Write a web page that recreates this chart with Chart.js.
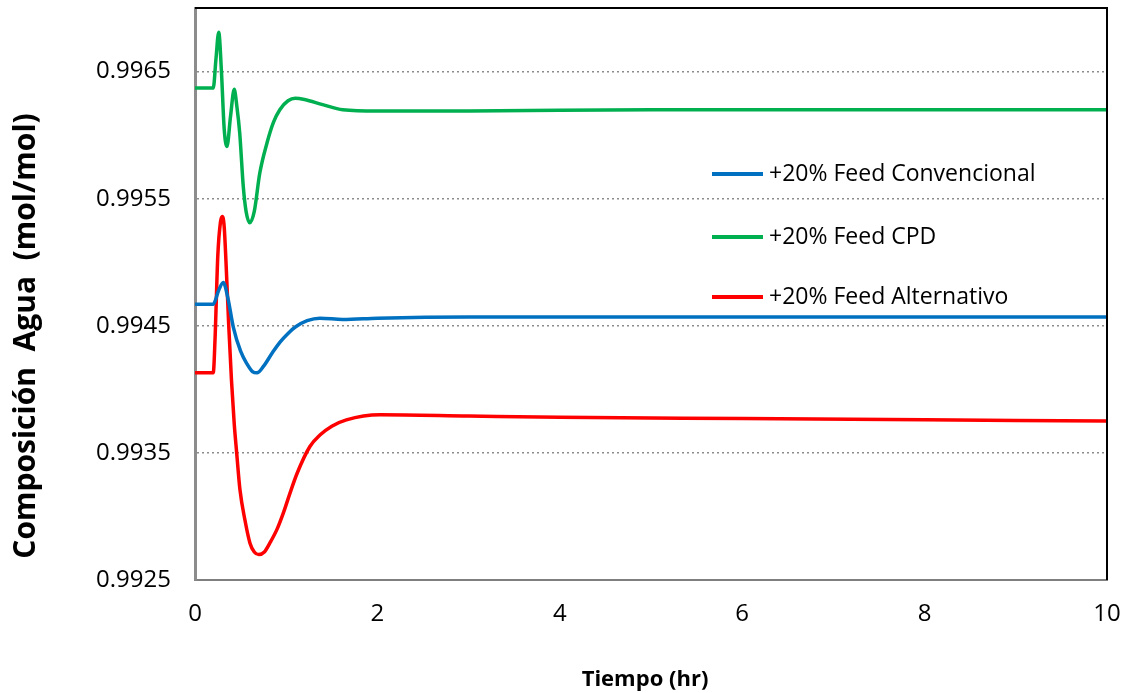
<!DOCTYPE html>
<html>
<head>
<meta charset="utf-8">
<script src="https://cdn.jsdelivr.net/npm/chart.js@4/dist/chart.umd.min.js"></script>
<style>
  html, body { margin: 0; padding: 0; background: #fff; }
  #wrap { width: 1134px; height: 693px; position: relative; }
</style>
</head>
<body>
<div id="wrap"><canvas id="chart"></canvas></div>
<script>
// Series labels
const seriesLabels = ['+20% Feed Convencional', '+20% Feed CPD', '+20% Feed Alternativo'];

// Convencional (blue)
const convTime = [0, 0.2, 0.26, 0.31, 0.36, 0.42, 0.5, 0.57, 0.63, 0.68, 0.75, 0.85, 0.93, 1.02, 1.1, 1.23, 1.37, 1.62, 2.0, 3.0, 5.0, 10];
const convValue = [0.99467, 0.99467, 0.99478, 0.99484, 0.99472, 0.99449, 0.99430, 0.99420, 0.99414, 0.99413, 0.99418, 0.99429, 0.99437, 0.99444, 0.99449, 0.99454, 0.99456, 0.99455, 0.99456, 0.99457, 0.99457, 0.99457];

// CPD (green)
const cpdTime = [0, 0.2, 0.23, 0.26, 0.29, 0.32, 0.35, 0.39, 0.43, 0.46, 0.49, 0.53, 0.56, 0.6, 0.65, 0.71, 0.79, 0.86, 0.93, 1.02, 1.1, 1.2, 1.4, 1.62, 2.0, 3.0, 5.0, 7.0, 10];
const cpdValue = [0.99637, 0.99637, 0.99660, 0.99681, 0.99650, 0.99605, 0.99591, 0.99615, 0.99636, 0.99622, 0.99602, 0.99559, 0.99540, 0.99531, 0.99540, 0.99570, 0.99594, 0.99610, 0.99620, 0.99627, 0.99629, 0.99628, 0.99624, 0.99620, 0.99619, 0.99619, 0.99620, 0.99620, 0.99620];

// Alternativo (red)
const altTime = [0, 0.2, 0.22, 0.25, 0.28, 0.3, 0.32, 0.34, 0.37, 0.4, 0.43, 0.457, 0.493, 0.548, 0.603, 0.65, 0.7, 0.76, 0.82, 0.9, 0.97, 1.04, 1.12, 1.26, 1.37, 1.5, 1.66, 2.03, 3.0, 4.0, 6.0, 8.0, 10];
const altValue = [0.99413, 0.99413, 0.99440, 0.99505, 0.99532, 0.99536, 0.99528, 0.99500, 0.99450, 0.99407, 0.99373, 0.99350, 0.99321, 0.99297, 0.99279, 0.99272, 0.99270, 0.99272, 0.99279, 0.99290, 0.99303, 0.99318, 0.99334, 0.99355, 0.99364, 0.99371, 0.99376, 0.99380, 0.99379, 0.99378, 0.99377, 0.99376, 0.99375];

// Axis ticks and titles
const xTicks = [0, 2, 4, 6, 8, 10];
const yTicks = [0.9925, 0.9935, 0.9945, 0.9955, 0.9965];
const xTitle = 'Tiempo (hr)';
const yTitle = 'Composición  Agua  (mol/mol)';

const colors = ['#0070C0', '#00B050', '#FF0000'];
const FONT = '"Open Sans", "Liberation Sans", sans-serif';

function toPoints(ts, vs) {
    return ts.map((t, i) => ({ x: t, y: vs[i] }));
}

// Legend drawn inside the plot area
const innerLegend = {
    id: 'innerLegend',
    afterDatasetsDraw(chart) {
        const ctx = chart.ctx;
        const area = chart.chartArea;
        const x0 = area.left + 517;
        const rows = [area.top + 166, area.top + 229, area.top + 289];
        ctx.save();
        ctx.font = '23px ' + FONT;
        ctx.textBaseline = 'middle';
        ctx.fillStyle = '#000';
        chart.data.datasets.forEach((ds, i) => {
            ctx.strokeStyle = ds.borderColor;
            ctx.lineWidth = 4;
            ctx.beginPath();
            ctx.moveTo(x0, rows[i]);
            ctx.lineTo(x0 + 51, rows[i]);
            ctx.stroke();
            ctx.fillText(ds.label, x0 + 57, rows[i]);
        });
        ctx.restore();
    }
};

// Black top/right frame and axis titles
const frame = {
    id: 'frame',
    afterDraw(chart) {
        const ctx = chart.ctx;
        const a = chart.chartArea;
        ctx.save();
        ctx.strokeStyle = '#000';
        ctx.lineWidth = 2;
        ctx.beginPath();
        ctx.moveTo(a.left, a.top);
        ctx.lineTo(a.right, a.top);
        ctx.lineTo(a.right, a.bottom);
        ctx.stroke();

        ctx.fillStyle = '#000';
        ctx.textAlign = 'center';
        ctx.textBaseline = 'middle';
        ctx.font = 'bold 22px ' + FONT;
        ctx.fillText(xTitle, 645, 680);

        ctx.translate(26, 336);
        ctx.rotate(-Math.PI / 2);
        ctx.font = 'bold 30px ' + FONT;
        ctx.fillText(yTitle, 0, 0);
        ctx.restore();
    }
};

new Chart(document.getElementById('chart'), {
    type: 'line',
    data: {
        datasets: [
            { label: seriesLabels[0], data: toPoints(convTime, convValue), borderColor: colors[0] },
            { label: seriesLabels[1], data: toPoints(cpdTime, cpdValue), borderColor: colors[1] },
            { label: seriesLabels[2], data: toPoints(altTime, altValue), borderColor: colors[2] }
        ]
    },
    options: {
        responsive: true,
        maintainAspectRatio: false,
        animation: false,
        layout: { padding: { top: 8, right: 27, left: 0, bottom: 0 } },
        elements: {
            line: { borderWidth: 3.5, cubicInterpolationMode: 'monotone', fill: false },
            point: { radius: 0 }
        },
        plugins: {
            legend: { display: false },
            tooltip: { enabled: false }
        },
        scales: {
            x: {
                type: 'linear',
                min: 0,
                max: 10,
                afterBuildTicks: (scale) => { scale.ticks = xTicks.map(v => ({ value: v })); },
                afterFit: (scale) => {
                    scale.height = 113;
                    scale.paddingLeft = 0;
                    scale.paddingRight = 0;
                },
                ticks: { color: '#000', font: { family: FONT, size: 24 }, padding: 20 },
                grid: { drawOnChartArea: false, drawTicks: false },
                border: { color: '#7f7f7f', width: 2 }
            },
            y: {
                min: 0.9925,
                max: 0.997,
                afterBuildTicks: (scale) => { scale.ticks = yTicks.map(v => ({ value: v })); },
                afterFit: (scale) => {
                    scale.width = 195;
                    scale.paddingTop = 0;
                    scale.paddingBottom = 0;
                },
                ticks: {
                    color: '#000',
                    font: { family: FONT, size: 24 },
                    padding: 24,
                    callback: (v) => Number(v).toFixed(4)
                },
                grid: { color: '#8c8c8c', lineWidth: 1.5, drawTicks: false },
                border: { color: '#8c8c8c', width: 3, dash: [2, 3] }
            }
        }
    },
    plugins: [innerLegend, frame]
});
</script>
</body>
</html>
